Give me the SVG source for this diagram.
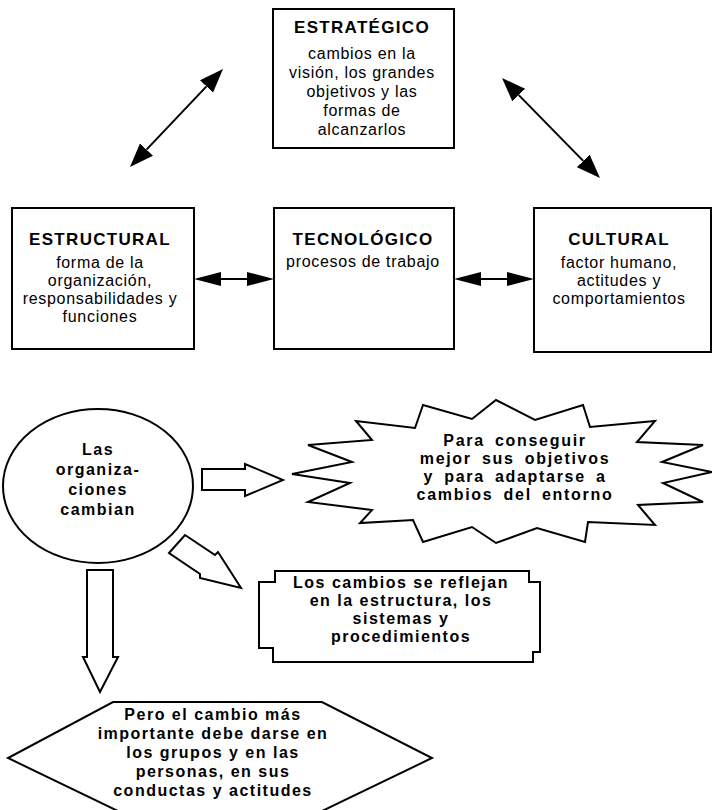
<svg xmlns="http://www.w3.org/2000/svg" width="712" height="810" viewBox="0 0 712 810">
<style>
.box{fill:#fff;stroke:#000;stroke-width:2}
.con{stroke:#000;stroke-width:2;fill:none}
.blk{fill:#fff;stroke:#000;stroke-width:2;stroke-linejoin:miter}
text{font-family:"Liberation Sans",Arial,sans-serif;font-size:16px;fill:#000;text-anchor:middle;letter-spacing:0.7px}
.h{font-size:17px;font-weight:bold;letter-spacing:1.3px}
.b{font-weight:bold;letter-spacing:1.5px}
.s{font-weight:bold;letter-spacing:1.7px;word-spacing:4px}
</style>
<defs>
<marker id="ad" viewBox="0 0 24 18" refX="0" refY="9" markerWidth="24" markerHeight="18" markerUnits="userSpaceOnUse" orient="auto-start-reverse">
<path d="M0,0 L24,9 L0,18 Z" fill="#000"/>
</marker>
<marker id="ah" viewBox="0 0 27 14" refX="0" refY="7" markerWidth="27" markerHeight="14" markerUnits="userSpaceOnUse" orient="auto-start-reverse">
<path d="M0,0 L27,7 L0,14 Z" fill="#000"/>
</marker>
</defs>
<rect width="712" height="810" fill="#fff"/>

<g id="connectors">
<line class="con" x1="146.5" y1="149.6" x2="206.5" y2="86.4" marker-start="url(#ad)" marker-end="url(#ad)"/>
<line class="con" x1="518.8" y1="95.1" x2="583.2" y2="160.9" marker-start="url(#ad)" marker-end="url(#ad)"/>
<line class="con" x1="221" y1="279" x2="247" y2="279" marker-start="url(#ah)" marker-end="url(#ah)"/>
<line class="con" x1="481" y1="279" x2="507" y2="279" marker-start="url(#ah)" marker-end="url(#ah)"/>
<polygon class="blk" points="202,469 245,469 245,464 283,480 245,496 245,490 202,490"/>
<polygon class="blk" points="169,553 185,535 215,555 218,552 241,588 200,578 200,574"/>
<polygon class="blk" points="87,570 113,570 113,657 118,657 100,692 83,657 87,657"/>
</g>

<g id="estrategico">
<rect class="box" x="273" y="9" width="181" height="139"/>
<text class="h" x="362" y="33">ESTRATÉGICO</text>
<text x="362" y="59">cambios en la</text>
<text x="362" y="78">visión, los grandes</text>
<text x="362" y="97">objetivos y las</text>
<text x="362" y="116">formas de</text>
<text x="362" y="135">alcanzarlos</text>
</g>

<g id="estructural">
<rect class="box" x="12" y="208" width="182" height="141"/>
<text class="h" x="100" y="245">ESTRUCTURAL</text>
<text x="100" y="268">forma de la</text>
<text x="100" y="286">organización,</text>
<text x="100" y="304">responsabilidades y</text>
<text x="100" y="322">funciones</text>
</g>

<g id="tecnologico">
<rect class="box" x="274" y="208" width="180" height="141"/>
<text class="h" x="363" y="245">TECNOLÓGICO</text>
<text x="363" y="267">procesos de trabajo</text>
</g>

<g id="cultural">
<rect class="box" x="534" y="208" width="177" height="144"/>
<text class="h" x="619" y="245">CULTURAL</text>
<text x="619" y="268">factor humano,</text>
<text x="619" y="286">actitudes y</text>
<text x="619" y="304">comportamientos</text>
</g>

<g id="organizaciones">
<ellipse class="box" cx="98" cy="486" rx="95" ry="77"/>
<text class="b" x="98" y="455">Las</text>
<text class="b" x="98" y="475">organiza-</text>
<text class="b" x="98" y="495">ciones</text>
<text class="b" x="98" y="515">cambian</text>
</g>

<g id="objetivos">
<polygon class="box" points="292,474 352,462 308,445 372,440 356,421 415,428 423,405 472,419 496,400 535,420 583,405 590,427 655,421 637,442 703,445 662,462 712,472 663,483 703,502 638,505 655,525 588,522 585,542 537,528 496,543 472,527 423,542 413,520 360,523 372,510 308,502 350,483"/>
<text class="s" x="515" y="446">Para conseguir</text>
<text class="s" x="515" y="464">mejor sus objetivos</text>
<text class="s" x="515" y="482">y para adaptarse a</text>
<text class="s" x="515" y="500">cambios del entorno</text>
</g>

<g id="estructura">
<polygon class="box" points="275,571 529,571 529,582 540,582 540,652 533,652 533,662 273,662 273,648 259,648 259,582 275,582"/>
<text class="b" x="401" y="588">Los cambios se reflejan</text>
<text class="b" x="401" y="606">en la estructura, los</text>
<text class="b" x="401" y="624">sistemas y</text>
<text class="b" x="401" y="642">procedimientos</text>
</g>

<g id="personas">
<polygon class="box" points="113,702 322,702 432,758 320,812 120,812 8,758"/>
<text class="b" x="213" y="720">Pero el cambio más</text>
<text class="b" x="213" y="739">importante debe darse en</text>
<text class="b" x="213" y="758">los grupos y en las</text>
<text class="b" x="213" y="777">personas, en sus</text>
<text class="b" x="213" y="796">conductas y actitudes</text>
</g>
</svg>
